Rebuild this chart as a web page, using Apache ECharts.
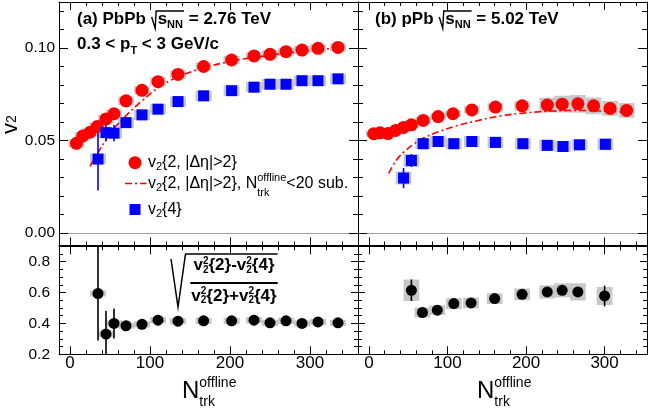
<!DOCTYPE html>
<html><head><meta charset="utf-8">
<script src="https://cdn.jsdelivr.net/npm/echarts@6/dist/echarts.min.js"></script>
<style>html,body{margin:0;padding:0;background:#fff}#c{width:654px;height:414px}</style>
</head><body><div id="c"></div>
<script>
// ================= DATA =================
// (a) PbPb 2.76 TeV
const pbpbN2      = [8, 16, 25, 34, 45, 55, 70, 90, 110, 135, 167, 202, 230, 250, 270, 290, 310, 335];
const pbpbV22     = [0.0485, 0.0525, 0.0545, 0.0576, 0.0617, 0.0645, 0.0715, 0.0772, 0.0819, 0.0858, 0.0901, 0.0936, 0.0958, 0.0967, 0.0981, 0.0990, 0.0999, 0.1004];
const pbpbV22Sys  = [0.0022, 0.0022, 0.0022, 0.0022, 0.0022, 0.0022, 0.0022, 0.0022, 0.0022, 0.0022, 0.0022, 0.0022, 0.0022, 0.0022, 0.0022, 0.0022, 0.0022, 0.0022];
const pbpbN4      = [35, 45, 55, 70, 90, 110, 135, 167, 202, 230, 250, 270, 290, 310, 335];
const pbpbV24     = [0.0400, 0.0543, 0.0540, 0.0597, 0.0639, 0.0670, 0.0711, 0.0742, 0.0770, 0.0789, 0.0805, 0.0805, 0.0824, 0.0824, 0.0834];
const pbpbV24Stat = [0.0170, 0.0048, 0.0045, 0.0020, 0.0012, 0.0010, 0.0008, 0.0007, 0.0006, 0.0006, 0.0006, 0.0006, 0.0006, 0.0006, 0.0006];
const pbpbV24Sys  = [0.0028, 0.0028, 0.0028, 0.0028, 0.0028, 0.0028, 0.0028, 0.0028, 0.0028, 0.0028, 0.0028, 0.0028, 0.0028, 0.0028, 0.0028];
const pbpbSubN    = [25, 35, 45, 55, 70, 90, 110, 135, 167, 202, 230, 270, 310, 345];
const pbpbSubV22  = [0.0360, 0.0435, 0.0505, 0.0565, 0.0635, 0.0715, 0.0785, 0.0845, 0.0893, 0.0930, 0.0950, 0.0973, 0.0992, 0.1003];
const pbpbRatio     = [0.594, 0.331, 0.400, 0.385, 0.394, 0.421, 0.415, 0.417, 0.417, 0.421, 0.404, 0.417, 0.400, 0.410, 0.404];
const pbpbRatioStat = [0.305, 0.150, 0.097, 0.020, 0.015, 0.012, 0.010, 0.010, 0.010, 0.010, 0.010, 0.010, 0.010, 0.010, 0.010];
const pbpbRatioSys  = [0.020, 0.020, 0.020, 0.020, 0.020, 0.020, 0.020, 0.020, 0.020, 0.020, 0.020, 0.020, 0.020, 0.020, 0.020];

// (b) pPb 5.02 TeV
const ppbN2      = [6, 14, 24, 34, 44, 54, 69, 88, 107, 131, 161, 195, 227, 246, 266, 286, 307, 328];
const ppbV22     = [0.0537, 0.0542, 0.0538, 0.0555, 0.0571, 0.0585, 0.0609, 0.0630, 0.0645, 0.0666, 0.0681, 0.0688, 0.0692, 0.0697, 0.0699, 0.0688, 0.0674, 0.0663];
const ppbV22Sys  = [0.0018, 0.0018, 0.0018, 0.0018, 0.0018, 0.0018, 0.0018, 0.0018, 0.0018, 0.0020, 0.0022, 0.0025, 0.0040, 0.0045, 0.0048, 0.0045, 0.0040, 0.0040];
const ppbN4      = [44, 54, 69, 88, 108, 131, 161, 196, 227, 247, 268, 301];
const ppbV24     = [0.0297, 0.0392, 0.0483, 0.0495, 0.0483, 0.0495, 0.0490, 0.0483, 0.0474, 0.0468, 0.0477, 0.0480];
const ppbV24Stat = [0.0055, 0.0035, 0.0012, 0.0008, 0.0008, 0.0008, 0.0008, 0.0008, 0.0010, 0.0012, 0.0015, 0.0028];
const ppbV24Sys  = [0.0035, 0.0035, 0.0030, 0.0030, 0.0030, 0.0030, 0.0030, 0.0030, 0.0030, 0.0030, 0.0030, 0.0032];
const ppbSubN    = [25, 35, 45, 55, 70, 90, 110, 135, 167, 200, 235, 270, 305, 330];
const ppbSubV22  = [0.0322, 0.0395, 0.0440, 0.0475, 0.0515, 0.0550, 0.0578, 0.0605, 0.0633, 0.0650, 0.0660, 0.0663, 0.0658, 0.0652];
const ppbRatioN    = [54, 68, 87, 108, 130, 160, 195, 227, 246, 266, 300];
const ppbRatio     = [0.615, 0.471, 0.486, 0.529, 0.533, 0.561, 0.589, 0.604, 0.615, 0.604, 0.578];
const ppbRatioStat = [0.070, 0.012, 0.012, 0.010, 0.010, 0.010, 0.010, 0.012, 0.012, 0.014, 0.067];
const ppbRatioSys  = [0.070, 0.032, 0.032, 0.035, 0.035, 0.035, 0.038, 0.043, 0.045, 0.056, 0.058];

// tick values
const xMajor   = [0, 100, 200, 300];
const xMinor   = [20, 40, 60, 80, 120, 140, 160, 180, 220, 240, 260, 280, 320, 340];
const yTopMajor = [0, 0.05, 0.10];
const yTopMinor = [0.01, 0.02, 0.03, 0.04, 0.06, 0.07, 0.08, 0.09, 0.11, 0.12];
const yBotMajor = [0.2, 0.4, 0.6, 0.8];
const yBotMinor = [0.25, 0.3, 0.35, 0.45, 0.5, 0.55, 0.65, 0.7, 0.75, 0.85];

// ================= HELPERS =================
const FAMILY = '"Liberation Sans", Arial, Helvetica, sans-serif';
const RED = '#ff0000', BLUE = '#0000ff', GRAY = '#c8c8c8';
const mctx = document.createElement('canvas').getContext('2d');
function fnt(size, bold) { return (bold ? 'bold ' : '') + size + 'px ' + FAMILY; }
function tw(t, size, bold) { mctx.font = fnt(size, bold); return mctx.measureText(t).width; }
function txt(x, y, t, size, bold, color) {
  return { type: 'text', x: x, y: y, silent: true, z: 100,
    style: { text: t, font: fnt(size, bold), fill: color || '#000',
      textAlign: 'left', align: 'left', textVerticalAlign: 'middle', verticalAlign: 'middle' } };
}
function mathRow(x, y, parts, o) {
  const size = o.size, bold = !!o.bold, color = o.color || '#000';
  const ss = o.ss || Math.round(size * 0.65);
  const supDy = o.supDy != null ? o.supDy : -0.4 * size;
  const subDy = o.subDy != null ? o.subDy : 0.3 * size;
  const items = []; let cx = 0;
  for (const p of parts) {
    const q = typeof p === 'string' ? { b: p } : p;
    if (q.b) { items.push([cx, 0, q.b, size]); cx += tw(q.b, size, bold); }
    let w = 0;
    if (q.sup) { items.push([cx, supDy, q.sup, ss]); w = Math.max(w, tw(q.sup, ss, bold)); }
    if (q.sub) { items.push([cx, subDy, q.sub, ss]); w = Math.max(w, tw(q.sub, ss, bold)); }
    cx += w;
  }
  const x0 = o.align === 'center' ? x - cx / 2 : x;
  return { width: cx, x0: x0, els: items.map(it => txt(x0 + it[0], y + it[1], it[2], it[3], bold, color)) };
}
function titleSqrt(x, y, pre, post, size) {
  const els = [];
  const r1 = mathRow(x, y, [pre], { size: size, bold: true });
  els.push(...r1.els);
  const rx = x + r1.width + 1;
  const r2 = mathRow(rx + 6, y, [{ b: 's', sub: 'NN' }], { size: size, bold: true, ss: 11, subDy: 0.38 * size });
  els.push(...r2.els);
  const endS = rx + 6 + r2.width + 1;
  els.push({ type: 'polyline', silent: true, z: 100,
    shape: { points: [[rx, y - 0.12 * size], [rx + 3.5, y + 0.55 * size], [rx + 4.5, y - 0.47 * size], [endS, y - 0.47 * size]] },
    style: { stroke: '#000', lineWidth: 1.4, fill: null } });
  const r3 = mathRow(endS, y, [post], { size: size, bold: true });
  els.push(...r3.els);
  return els;
}

// ================= AXES =================
const xAxes = [], yAxes = [];
function addAxes(list, dim, gridIndex, min, max, majors, minors, majLen, minLen, label) {
  const positions = dim === 'x' ? ['bottom', 'top'] : ['left', 'right'];
  let primary = -1;
  positions.forEach((pos, pi) => {
    [true, false].forEach(isMajor => {
      const showLab = !!(label && pi === 0 && isMajor);
      const ax = {
        type: 'value', gridIndex: gridIndex, position: pos, min: min, max: max,
        axisLine: { show: isMajor, onZero: false, lineStyle: { color: '#000', width: 1 } },
        axisTick: { show: true, inside: true, length: isMajor ? majLen : minLen,
          customValues: isMajor ? majors : minors, lineStyle: { color: '#000', width: 1 } },
        axisLabel: showLab ? Object.assign({ show: true, customValues: majors, color: '#000', fontFamily: FAMILY }, label) : { show: false },
        splitLine: { show: false }, minorTick: { show: false }, splitArea: { show: false },
        axisPointer: { show: false }, silent: true, z: 5
      };
      if (pi === 0 && isMajor) primary = list.length;
      list.push(ax);
    });
  });
  return primary;
}
const xLab = { fontSize: 17, margin: 1, formatter: v => String(Math.round(v)) };
const yTopLab = { fontSize: 15.5, margin: 4, formatter: v => v.toFixed(2) };
const yBotLab = { fontSize: 15.5, margin: 9, formatter: v => v.toFixed(1) };

const X0 = addAxes(xAxes, 'x', 0, -13.75, 360, xMajor, xMinor, 8, 4, null);
const Y0 = addAxes(yAxes, 'y', 0, -0.0068, 0.125, yTopMajor, yTopMinor, 9, 5, yTopLab);
const X1 = addAxes(xAxes, 'x', 1, -14, 354, xMajor, xMinor, 8, 4, null);
const Y1 = addAxes(yAxes, 'y', 1, -0.0068, 0.125, yTopMajor, yTopMinor, 9, 5, null);
const X2 = addAxes(xAxes, 'x', 2, -13.75, 360, xMajor, xMinor, 8, 4, xLab);
const Y2 = addAxes(yAxes, 'y', 2, 0.2, 0.9, yBotMajor, yBotMinor, 7, 4, yBotLab);
const X3 = addAxes(xAxes, 'x', 3, -14, 354, xMajor, xMinor, 8, 4, xLab);
const Y3 = addAxes(yAxes, 'y', 3, 0.2, 0.9, yBotMajor, yBotMinor, 7, 4, null);

const grids = [
  { left: 59, top: 2, width: 299, height: 243.5 },
  { left: 358, top: 2, width: 289, height: 243.5 },
  { left: 59, top: 246.3, width: 299, height: 108 },
  { left: 358, top: 246.3, width: 289, height: 108 }
].map(g => Object.assign({ show: false, containLabel: false, outerBoundsMode: 'none' }, g));

// ================= SERIES =================
const zip = (a, b) => a.map((v, i) => [v, b[i]]);
const BOX_HALF_W = 10;
function boxSeries(xs, ys, hh, xi, yi) {
  return { type: 'custom', xAxisIndex: xi, yAxisIndex: yi, z: 1, silent: true, clip: true,
    data: xs.map((x, i) => [x, ys[i], hh[i]]),
    renderItem: (params, api) => {
      const x = api.value(0), y = api.value(1), h = api.value(2);
      const p1 = api.coord([x - BOX_HALF_W, y + h]), p2 = api.coord([x + BOX_HALF_W, y - h]);
      return { type: 'rect', shape: { x: p1[0], y: p1[1], width: p2[0] - p1[0], height: p2[1] - p1[1] }, style: { fill: GRAY } };
    } };
}
function errSeries(xs, ys, es, xi, yi, color, w) {
  return { type: 'custom', xAxisIndex: xi, yAxisIndex: yi, z: 3, silent: true, clip: true,
    data: xs.map((x, i) => [x, ys[i], es[i]]),
    renderItem: (params, api) => {
      const x = api.value(0), y = api.value(1), e = api.value(2);
      const a = api.coord([x, y + e]), b = api.coord([x, y - e]);
      return { type: 'line', shape: { x1: a[0], y1: a[1], x2: b[0], y2: b[1] }, style: { stroke: color, lineWidth: w } };
    } };
}
function scat(xs, ys, xi, yi, symbol, size, color) {
  return { type: 'scatter', xAxisIndex: xi, yAxisIndex: yi, z: 4, silent: true,
    symbol: symbol, symbolSize: size, itemStyle: { color: color, opacity: 1 }, data: zip(xs, ys) };
}
function dashLine(xs, ys, xi, yi) {
  return { type: 'line', xAxisIndex: xi, yAxisIndex: yi, z: 2, silent: true, smooth: 0.4,
    symbol: 'none', showSymbol: false, lineStyle: { color: RED, width: 1.6, type: [7, 3, 2, 3] },
    data: zip(xs, ys),
    markLine: { silent: true, symbol: ['none', 'none'], label: { show: false }, animation: false,
      lineStyle: { color: '#a0a0a0', width: 1, type: 'solid' }, data: [{ yAxis: 0 }] } };
}

const series = [
  // top-left
  boxSeries(pbpbN2, pbpbV22, pbpbV22Sys, X0, Y0),
  boxSeries(pbpbN4, pbpbV24, pbpbV24Sys, X0, Y0),
  dashLine(pbpbSubN, pbpbSubV22, X0, Y0),
  errSeries(pbpbN4, pbpbV24, pbpbV24Stat, X0, Y0, BLUE, 1.6),
  scat(pbpbN2, pbpbV22, X0, Y0, 'circle', 13, RED),
  scat(pbpbN4, pbpbV24, X0, Y0, 'rect', 11, BLUE),
  // top-right
  boxSeries(ppbN2, ppbV22, ppbV22Sys, X1, Y1),
  boxSeries(ppbN4, ppbV24, ppbV24Sys, X1, Y1),
  dashLine(ppbSubN, ppbSubV22, X1, Y1),
  errSeries(ppbN4, ppbV24, ppbV24Stat, X1, Y1, BLUE, 1.6),
  scat(ppbN2, ppbV22, X1, Y1, 'circle', 13, RED),
  scat(ppbN4, ppbV24, X1, Y1, 'rect', 11, BLUE),
  // bottom-left
  boxSeries(pbpbN4, pbpbRatio, pbpbRatioSys, X2, Y2),
  errSeries(pbpbN4, pbpbRatio, pbpbRatioStat, X2, Y2, '#000', 1.6),
  scat(pbpbN4, pbpbRatio, X2, Y2, 'circle', 11, '#000'),
  // bottom-right
  boxSeries(ppbRatioN, ppbRatio, ppbRatioSys, X3, Y3),
  errSeries(ppbRatioN, ppbRatio, ppbRatioStat, X3, Y3, '#000', 1.6),
  scat(ppbRatioN, ppbRatio, X3, Y3, 'circle', 11, '#000')
];

// ================= TEXT / GRAPHICS =================
const G = [];
G.push(...titleSqrt(77, 19, '(a) PbPb ', ' = 2.76 TeV', 17));
G.push(...mathRow(77, 44, ['0.3 < p', { sub: 'T' }, ' < 3 GeV/c'], { size: 17, bold: true, ss: 11, subDy: 6.5 }).els);
G.push(...titleSqrt(375, 19, '(b) pPb ', ' = 5.02 TeV', 17));

// legend
const LO = { size: 16, ss: 11, subDy: 4, supDy: -5.5 };
G.push({ type: 'circle', silent: true, z: 100, shape: { cx: 135, cy: 162.7, r: 6.5 }, style: { fill: RED } });
G.push(...mathRow(148, 162.7, [{ b: 'v', sub: '2' }, '{2, |Δη|>2}'], LO).els);
G.push({ type: 'line', silent: true, z: 100, shape: { x1: 125, y1: 183.5, x2: 146.5, y2: 183.5 }, style: { stroke: RED, lineWidth: 1.6, lineDash: [7, 3, 2, 3] } });
G.push(...mathRow(148, 183.5, [{ b: 'v', sub: '2' }, '{2, |Δη|>2}, ', { b: 'N', sup: 'offline' }, '<20 sub.'], LO).els);
{ // trk subscript under "offline"
  const pre = mathRow(0, 0, [{ b: 'v', sub: '2' }, '{2, |Δη|>2}, N'], LO).width;
  G.push(txt(148 + pre, 193, 'trk', 11, false, '#000'));
}
G.push({ type: 'rect', silent: true, z: 100, shape: { x: 129.5, y: 204, width: 11, height: 11 }, style: { fill: BLUE } });
G.push(...mathRow(148, 210, [{ b: 'v', sub: '2' }, '{4}'], LO).els);

// y axis title v2 (rotated)
G.push({ type: 'group', x: 11, y: 134, rotation: Math.PI / 2, silent: true, z: 100,
  children: mathRow(0, 0, [{ b: 'v', sub: '2' }], { size: 22, ss: 14, subDy: 1 }).els });

// x axis titles
const XT = { size: 24, ss: 14, supDy: -8.5, subDy: 10.5 };
[182, 477].forEach(x0 => {
  G.push(...mathRow(x0, 391.5, [{ b: 'N', sup: 'offline', sub: 'trk' }], XT).els);
});

// ratio formula
{
  const FO = { size: 17, bold: true, ss: 10, supDy: -4.5, subDy: 4.5, align: 'center' };
  const num = mathRow(234, 265.5, [{ b: 'v', sup: '2', sub: '2' }, '{2}-', { b: 'v', sup: '2', sub: '2' }, '{4}'], FO);
  const den = mathRow(234, 296, [{ b: 'v', sup: '2', sub: '2' }, '{2}+', { b: 'v', sup: '2', sub: '2' }, '{4}'], FO);
  G.push(...num.els, ...den.els);
  const x1 = Math.min(num.x0, den.x0) - 1, x2 = Math.max(num.x0 + num.width, den.x0 + den.width) + 1;
  G.push({ type: 'line', silent: true, z: 100, shape: { x1: x1, y1: 283, x2: x2, y2: 283 }, style: { stroke: '#000', lineWidth: 1.8 } });
  G.push({ type: 'polyline', silent: true, z: 100,
    shape: { points: [[171, 259], [178, 307], [185.5, 254], [x2, 254]] },
    style: { stroke: '#000', lineWidth: 1.5, fill: null } });
}

const chart = echarts.init(document.getElementById('c'), null, { renderer: 'canvas' });
chart.setOption({
  animation: false,
  backgroundColor: '#fff',
  textStyle: { fontFamily: FAMILY },
  grid: grids,
  xAxis: xAxes,
  yAxis: yAxes,
  series: series,
  graphic: { elements: G }
});
</script>
</body></html>
